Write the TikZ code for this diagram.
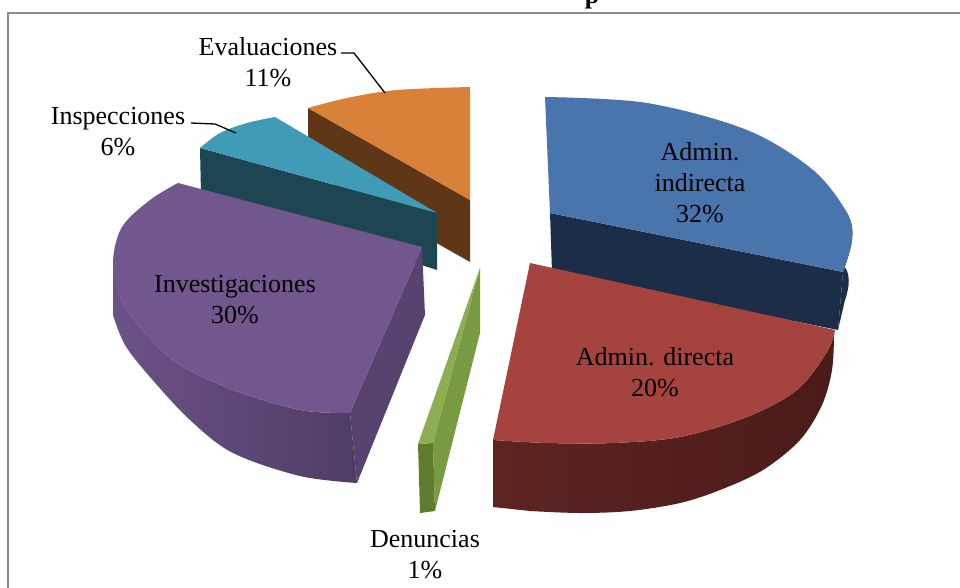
\documentclass[tikz,border=0pt]{standalone}
\usepackage{fontspec}
\setmainfont{Liberation Serif}
\definecolor{bluetop}{HTML}{4A74AC}
\definecolor{blueside}{HTML}{1C2D47}
\definecolor{redtop}{HTML}{A5433F}
\definecolor{redsideL}{HTML}{5E2422}
\definecolor{redsideR}{HTML}{4A1B1A}
\definecolor{greentop}{HTML}{8DAD52}
\definecolor{greencut}{HTML}{789A40}
\definecolor{greenside}{HTML}{5E7D2E}
\definecolor{purptop}{HTML}{72568E}
\definecolor{purpsideL}{HTML}{6C5288}
\definecolor{purpsideR}{HTML}{4E3D66}
\definecolor{purpcut}{HTML}{56436F}
\definecolor{tealtop}{HTML}{3F9BB6}
\definecolor{tealside}{HTML}{1D4552}
\definecolor{orangetop}{HTML}{DA8139}
\definecolor{orangeside}{HTML}{603716}
\definecolor{framegray}{HTML}{8C8C8C}
\tikzset{
  lbl/.style={font=\fontsize{26}{31}\selectfont, align=center, inner sep=0pt},
  leader/.style={draw=black, line width=1.3pt},
  sm/.style={smooth, tension=0.55}
}
\begin{document}
\begin{tikzpicture}[x=1pt,y=-1pt]
\useasboundingbox (0,0) rectangle (960,588);
\clip (0,0) rectangle (960,588);
\fill[white] (0,0) rectangle (960,588);
% frame
\draw[framegray, line width=2pt] (8,590) -- (8,13) -- (962,13);
\node[font=\bfseries\fontsize{26}{30}\selectfont, anchor=base, inner sep=0pt] (title) at (592,4) {p};

% ---------- Orange (Evaluaciones) ----------
\coordinate (oP) at (470,200);
\fill[orangeside] (308,108) -- (oP) -- (470,262) -- (308,170) -- cycle;
\fill[orangetop] (oP) -- plot[sm] coordinates {(308,108) (347,98) (397,90) (470,87)} -- cycle;

% ---------- Teal (Inspecciones) ----------
\coordinate (tP) at (437,213);
\fill[tealside] (200,148) -- (tP) -- (437,270) -- (201,194) -- cycle;
\fill[tealtop] (tP) -- plot[sm] coordinates {(200,148) (220,133) (247,123) (275,117)} -- cycle;

% ---------- Blue (Admin. indirecta) ----------
\coordinate (bP) at (550,213);
\fill[blueside] plot[sm] coordinates {(813,170) (847,213) (852,240) (843,272)} -- (838,330)
   -- plot[sm] coordinates {(845,300) (847,271) (813,228)} -- cycle;
\fill[blueside] (bP) -- (843,272) -- (838,330) -- (552,272) -- cycle;
\fill[bluetop] (bP) -- plot[sm] coordinates {(545,97) (647,103) (747,130) (813,170) (847,213) (852,240) (843,272)} -- cycle;

% ---------- Purple (Investigaciones) ----------
\coordinate (pP) at (422,247);
\fill[purpcut] (pP) -- (350,413) -- (357,483) -- (425,315) -- cycle;
\shade[left color=purpsideL, right color=purpsideR] plot[sm] coordinates {(350,413) (300,410) (233,390) (180,365) (145,333) (120,297) (113,262)}
   -- plot[sm] coordinates {(113,315) (125,345) (150,377) (190,420) (233,453) (300,476) (357,483)} -- cycle;
\fill[purptop] (pP) -- plot[sm] coordinates {(350,413) (300,410) (233,390) (180,365) (145,333) (120,297) (113,262) (122,227) (150,200) (178,183)} -- cycle;

% ---------- Green (Denuncias) ----------
\coordinate (gP) at (480,268);
\fill[greencut] (gP) -- (433,443) -- (435,511) -- (480,333) -- cycle;
\fill[greenside] (418,444) -- (433,443) -- (435,511) -- (420,513) -- cycle;
\fill[greentop] (gP) -- (433,443) -- (418,444) -- cycle;

% ---------- Red (Admin. directa) ----------
\coordinate (rP) at (530,263);
\shade[left color=redsideL, right color=redsideR] plot[sm] coordinates {(835,330) (827,352) (797,390) (747,417) (680,437) (613,443) (547,443) (493,440)}
   -- (493,507) -- plot[sm] coordinates {(530,511) (580,513) (630,511) (680,503) (720,490) (763,470) (800,440) (822,405) (832,370) (834,335)} -- cycle;
\fill[redtop] (rP) -- plot[sm] coordinates {(835,330) (827,352) (797,390) (747,417) (680,437) (613,443) (547,443) (493,440)} -- cycle;

% ---------- Labels ----------
\node[lbl] (lEval) at (268,62) {Evaluaciones\\11\%};
\node[lbl] (lInsp) at (118,132) {Inspecciones\\6\%};
\node[lbl] (lInv) at (235,300) {Investigaciones\\30\%};
\node[lbl] (lAI) at (700,183) {Admin.\\indirecta\\32\%};
\node[lbl] (lAD) at (655,372) {Admin. directa\\20\%};
\node[lbl] (lDen) at (425,555) {Denuncias\\1\%};

\coordinate (eA) at (354,53);
\coordinate (eB) at (385,93);
\draw[leader] (341,53) -- (eA) -- (eB);
\coordinate (iA) at (215,124);
\coordinate (iB) at (236,133);
\draw[leader] (191,123) -- (iA) -- (iB);
\end{tikzpicture}
\end{document}
